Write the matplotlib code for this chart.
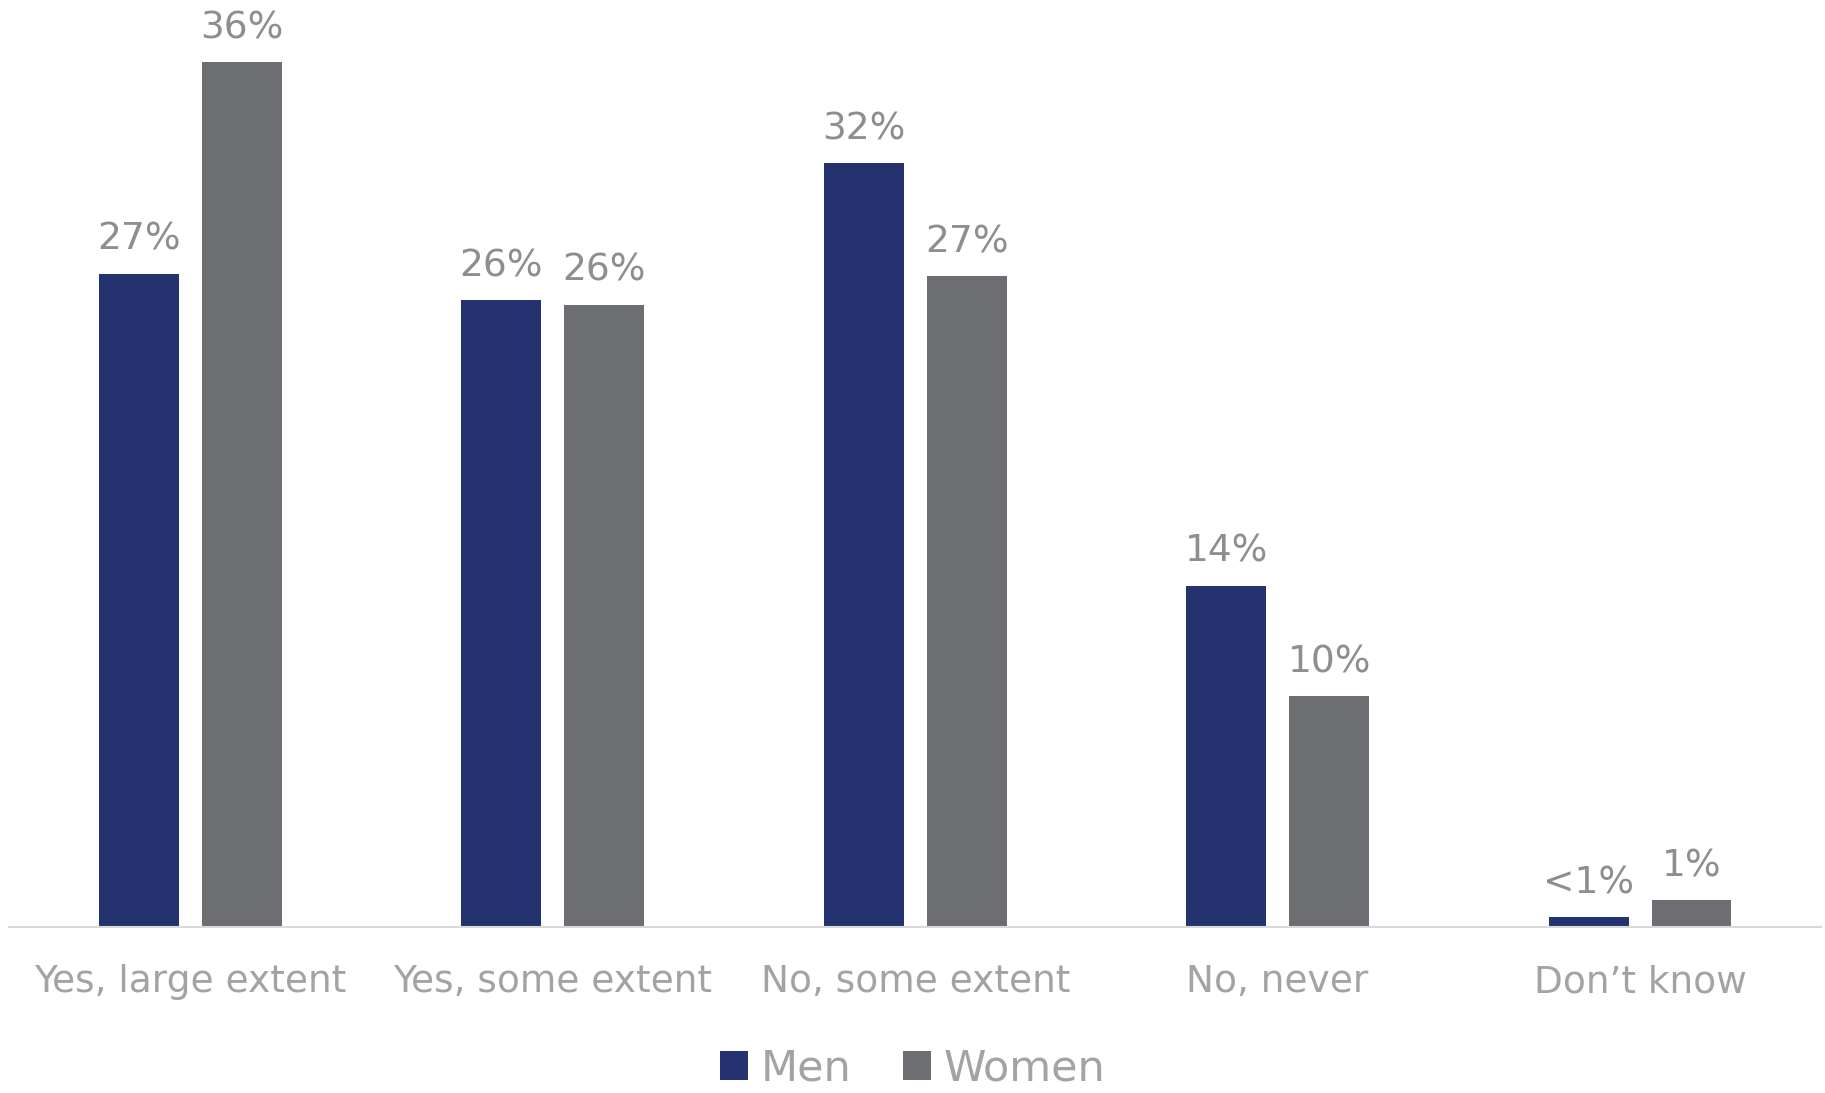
import matplotlib.pyplot as plt
import numpy as np

categories = ["Yes, large extent", "Yes, some extent", "No, some extent", "No, never", "Don\u2019t know"]
men = [27.2, 26.1, 31.8, 14.2, 0.4]
women = [36.0, 25.9, 27.1, 9.6, 1.1]
men_labels = ["27%", "26%", "32%", "14%", "<1%"]
women_labels = ["36%", "26%", "27%", "10%", "1%"]

navy = "#24336F"
grey = "#6D6E71"

plt.rcParams['font.family'] = ['DejaVu Sans']

fig = plt.figure(figsize=(18.25, 10.93), dpi=100)
ax = fig.add_axes([0.005, 0.152, 0.993, 0.848])

x = np.arange(len(categories))
w = 0.22
off = 0.142
b1 = ax.bar(x - off, men, w, color=navy, label="Men")
b2 = ax.bar(x + off, women, w, color=grey, label="Women")

for bars, labs in ((b1, men_labels), (b2, women_labels)):
    for b, lab in zip(bars, labs):
        ax.annotate(lab, (b.get_x() + b.get_width() / 2, b.get_height()),
                    xytext=(0, 16), textcoords="offset pixels",
                    ha="center", va="bottom", fontsize=27, color="#8E8E8E")

ax.set_xlim(-0.5, 4.5)
ax.set_ylim(0, 38.6)
ax.set_xticks(x)
ax.set_xticklabels(categories, fontsize=27, color="#A3A3A3")
ax.tick_params(axis="x", length=0, pad=27)
ax.set_yticks([])
for s in ["top", "right", "left"]:
    ax.spines[s].set_visible(False)
ax.spines["bottom"].set_color("#D9D9D9")
ax.spines["bottom"].set_linewidth(1.5)

leg = fig.legend(loc="center", bbox_to_anchor=(0.5, 0.022), ncol=2, frameon=False,
                 fontsize=31, handlelength=0.65, handleheight=0.65, handletextpad=0.3,
                 columnspacing=1.2, borderpad=0)
for t in leg.get_texts():
    t.set_color("#A3A3A3")

plt.savefig("out.png", dpi=100)
